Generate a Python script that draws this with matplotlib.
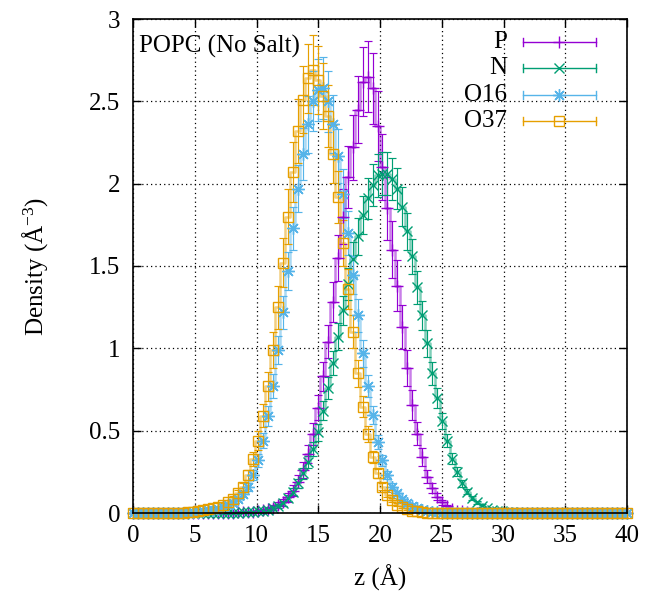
import numpy as np
import matplotlib
matplotlib.use("Agg")
import matplotlib.pyplot as plt
from matplotlib.lines import Line2D

# ---------------- data ----------------
z_min, z_max, n_bins = 0.0, 40.0, 100
z = np.linspace(z_min, z_max, n_bins)

series_names = ["P", "N", "O16", "O37"]

P_density = [
    0, 0, 0, 0, 0, 0, 0, 0, 0, 0,
    0, 0, 0, 0, 0, 0.001, 0.001, 0.001, 0.002, 0.002,
    0.003, 0.004, 0.005, 0.007, 0.009, 0.012, 0.017, 0.024, 0.033, 0.046,
    0.065, 0.095, 0.135, 0.19, 0.26, 0.36, 0.48, 0.64, 0.83, 1.04,
    1.28, 1.55, 1.80, 2.04, 2.22, 2.45, 2.62, 2.65, 2.58, 2.35,
    2.10, 1.85, 1.60, 1.38, 1.13, 0.88, 0.655, 0.48, 0.34, 0.22,
    0.15, 0.10, 0.065, 0.04, 0.025, 0.015, 0.01, 0.006, 0.003, 0.002,
    0.001, 0.001, 0, 0, 0, 0, 0, 0, 0, 0,
    0, 0, 0, 0, 0, 0, 0, 0, 0, 0,
    0, 0, 0, 0, 0, 0, 0, 0, 0, 0,
]
P_err = [
    0, 0, 0, 0, 0, 0, 0, 0, 0, 0,
    0, 0, 0, 0, 0, 0.001, 0.001, 0.001, 0.002, 0.002,
    0.003, 0.003, 0.004, 0.005, 0.006, 0.008, 0.01, 0.012, 0.015, 0.018,
    0.022, 0.027, 0.033, 0.04, 0.047, 0.055, 0.065, 0.076, 0.088, 0.10,
    0.12, 0.14, 0.165, 0.19, 0.20, 0.205, 0.21, 0.215, 0.215, 0.21,
    0.20, 0.19, 0.175, 0.155, 0.135, 0.11, 0.09, 0.07, 0.055, 0.04,
    0.03, 0.022, 0.016, 0.011, 0.008, 0.006, 0.004, 0.003, 0.002, 0.001,
    0.001, 0.001, 0, 0, 0, 0, 0, 0, 0, 0,
    0, 0, 0, 0, 0, 0, 0, 0, 0, 0,
    0, 0, 0, 0, 0, 0, 0, 0, 0, 0,
]

N_density = [
    0, 0, 0, 0, 0, 0, 0, 0, 0, 0,
    0, 0, 0, 0, 0, 0, 0, 0.001, 0.001, 0.001,
    0.002, 0.003, 0.004, 0.005, 0.007, 0.01, 0.015, 0.02, 0.03, 0.04,
    0.06, 0.09, 0.13, 0.18, 0.24, 0.31, 0.39, 0.49, 0.62, 0.76,
    0.91, 1.07, 1.23, 1.39, 1.54, 1.68, 1.81, 1.91, 1.99, 2.05,
    2.06, 2.06, 2.03, 1.97, 1.86, 1.71, 1.56, 1.37, 1.20, 1.03,
    0.85, 0.70, 0.56, 0.44, 0.33, 0.25, 0.18, 0.13, 0.09, 0.065,
    0.045, 0.03, 0.02, 0.015, 0.01, 0.007, 0.005, 0.003, 0.002, 0.001,
    0, 0, 0, 0, 0, 0, 0, 0, 0, 0,
    0, 0, 0, 0, 0, 0, 0, 0, 0, 0,
]
N_err = [
    0, 0, 0, 0, 0, 0, 0, 0, 0, 0,
    0, 0, 0, 0, 0, 0, 0, 0.001, 0.001, 0.001,
    0.002, 0.002, 0.003, 0.003, 0.004, 0.005, 0.006, 0.008, 0.01, 0.012,
    0.015, 0.018, 0.022, 0.027, 0.032, 0.037, 0.043, 0.05, 0.058, 0.066,
    0.074, 0.082, 0.09, 0.098, 0.105, 0.112, 0.118, 0.123, 0.127, 0.13,
    0.13, 0.13, 0.128, 0.125, 0.12, 0.114, 0.107, 0.098, 0.09, 0.08,
    0.07, 0.06, 0.05, 0.042, 0.034, 0.027, 0.021, 0.016, 0.012, 0.009,
    0.007, 0.005, 0.004, 0.003, 0.002, 0.002, 0.001, 0.001, 0.001, 0.001,
    0, 0, 0, 0, 0, 0, 0, 0, 0, 0,
    0, 0, 0, 0, 0, 0, 0, 0, 0, 0,
]

O16_density = [
    0, 0, 0, 0, 0, 0, 0, 0, 0, 0.001,
    0.002, 0.003, 0.005, 0.008, 0.012, 0.016, 0.021, 0.027, 0.035, 0.046,
    0.062, 0.085, 0.115, 0.16, 0.23, 0.32, 0.44, 0.59, 0.77, 0.99,
    1.22, 1.47, 1.73, 1.97, 2.18, 2.36, 2.50, 2.57, 2.58, 2.50,
    2.36, 2.17, 1.94, 1.70, 1.445, 1.20, 0.97, 0.77, 0.595, 0.43,
    0.32, 0.23, 0.16, 0.12, 0.085, 0.06, 0.04, 0.028, 0.018, 0.012,
    0.008, 0.005, 0.003, 0.002, 0.001, 0, 0, 0, 0, 0,
    0, 0, 0, 0, 0, 0, 0, 0, 0, 0,
    0, 0, 0, 0, 0, 0, 0, 0, 0, 0,
    0, 0, 0, 0, 0, 0, 0, 0, 0, 0,
]
O16_err = [
    0, 0, 0, 0, 0, 0, 0, 0, 0, 0.001,
    0.001, 0.002, 0.002, 0.003, 0.004, 0.005, 0.006, 0.007, 0.008, 0.01,
    0.012, 0.015, 0.019, 0.024, 0.03, 0.038, 0.048, 0.06, 0.072, 0.086,
    0.10, 0.115, 0.13, 0.145, 0.16, 0.172, 0.182, 0.188, 0.19, 0.185,
    0.176, 0.163, 0.148, 0.132, 0.115, 0.098, 0.082, 0.067, 0.054, 0.043,
    0.034, 0.026, 0.02, 0.016, 0.012, 0.009, 0.007, 0.005, 0.004, 0.003,
    0.002, 0.001, 0.001, 0.001, 0.001, 0, 0, 0, 0, 0,
    0, 0, 0, 0, 0, 0, 0, 0, 0, 0,
    0, 0, 0, 0, 0, 0, 0, 0, 0, 0,
    0, 0, 0, 0, 0, 0, 0, 0, 0, 0,
]

O37_density = [
    0, 0, 0, 0, 0, 0, 0, 0, 0.001, 0.002,
    0.003, 0.005, 0.008, 0.012, 0.017, 0.022, 0.028, 0.036, 0.048, 0.065,
    0.088, 0.12, 0.16, 0.23, 0.33, 0.44, 0.59, 0.77, 0.99, 1.25,
    1.52, 1.80, 2.07, 2.32, 2.51, 2.64, 2.69, 2.63, 2.53, 2.41,
    2.18, 1.92, 1.64, 1.36, 1.10, 0.85, 0.645, 0.48, 0.34, 0.24,
    0.16, 0.11, 0.08, 0.05, 0.035, 0.025, 0.015, 0.01, 0.006, 0.003,
    0.002, 0.001, 0, 0, 0, 0, 0, 0, 0, 0,
    0, 0, 0, 0, 0, 0, 0, 0, 0, 0,
    0, 0, 0, 0, 0, 0, 0, 0, 0, 0,
    0, 0, 0, 0, 0, 0, 0, 0, 0, 0,
]
O37_err = [
    0, 0, 0, 0, 0, 0, 0, 0, 0.001, 0.001,
    0.002, 0.002, 0.003, 0.004, 0.005, 0.006, 0.007, 0.008, 0.01, 0.012,
    0.015, 0.02, 0.025, 0.032, 0.042, 0.055, 0.07, 0.088, 0.108, 0.13,
    0.15, 0.168, 0.183, 0.195, 0.203, 0.208, 0.21, 0.208, 0.20, 0.19,
    0.175, 0.158, 0.14, 0.12, 0.10, 0.082, 0.065, 0.05, 0.038, 0.028,
    0.02, 0.015, 0.011, 0.008, 0.006, 0.004, 0.003, 0.002, 0.001, 0.001,
    0.001, 0.001, 0, 0, 0, 0, 0, 0, 0, 0,
    0, 0, 0, 0, 0, 0, 0, 0, 0, 0,
    0, 0, 0, 0, 0, 0, 0, 0, 0, 0,
    0, 0, 0, 0, 0, 0, 0, 0, 0, 0,
]

x_ticks = [0, 5, 10, 15, 20, 25, 30, 35, 40]
y_ticks = [0, 0.5, 1, 1.5, 2, 2.5, 3]
y_tick_labels = ["0", "0.5", "1", "1.5", "2", "2.5", "3"]
title_text = "POPC (No Salt)"

# ---------------- style ----------------
plt.rcParams["font.family"] = ["Liberation Serif", "DejaVu Serif"]
plt.rcParams["mathtext.fontset"] = "custom"
plt.rcParams["mathtext.rm"] = "Liberation Serif"
plt.rcParams["mathtext.it"] = "Liberation Serif:italic"
FS = 18

colors = ["#9400D3", "#009E73", "#56B4E9", "#E69F00"]
markers = ["+", "x", (8, 2, 0), "s"]
msizes = [8, 7.5, 9, 6.5]
mfcs = [None, None, None, "none"]

data = [
    (P_density, P_err),
    (N_density, N_err),
    (O16_density, O16_err),
    (O37_density, O37_err),
]

fig = plt.figure(figsize=(6.45, 5.93), dpi=100)
ax = fig.add_axes([133 / 645, 1 - 513 / 593, (627 - 133) / 645, (513 - 19) / 593])

for (y, e), c, m, ms, mfc in zip(data, colors, markers, msizes, mfcs):
    y = np.asarray(y, dtype=float)
    e = np.asarray(e, dtype=float)
    ax.step(z, y, where="mid", color=c, lw=1.8, alpha=0.5, zorder=2, clip_on=False)
    kw = dict(markerfacecolor=mfc) if mfc else {}
    ax.errorbar(z, y, yerr=e, fmt="none", ecolor=c, elinewidth=0.85,
                capsize=2.8, capthick=0.85, zorder=3, clip_on=False)
    ax.plot(z, y, linestyle="none", marker=m, ms=ms, color=c, mew=1.0,
            zorder=4, clip_on=False, **kw)

ax.set_xlim(z_min, z_max)
ax.set_ylim(0, 3)
ax.set_xticks(x_ticks)
ax.set_xticklabels([str(t) for t in x_ticks])
ax.set_yticks(y_ticks)
ax.set_yticklabels(y_tick_labels)
ax.tick_params(direction="in", length=6, width=1.0, top=True, right=True,
               labelsize=FS)
ax.tick_params(axis="x", pad=9)
ax.tick_params(axis="y", pad=9)
ax.grid(True, color="black", linestyle=(0, (1, 2.5)), lw=0.9)
ax.set_axisbelow(True)
for s in ax.spines.values():
    s.set_linewidth(1.2)
    s.set_zorder(5)

ax.set_xlabel("z (Å)", fontsize=FS, labelpad=12)
ax.set_ylabel("Density (Å$^{-3}$)", fontsize=FS, labelpad=28)

ax.text(0.012, 0.968, title_text, transform=ax.transAxes, fontsize=FS,
        ha="left", va="top", zorder=6)

# legend drawn gnuplot-style (label right-aligned, sample with end caps)
row_y = [0.953, 0.901, 0.846, 0.793]
for name, c, m, ms, mfc, ry in zip(series_names, colors, markers, msizes, mfcs, row_y):
    ax.text(0.757, ry, name, transform=ax.transAxes, fontsize=FS,
            ha="right", va="center", zorder=6)
    ax.add_line(Line2D([0.79, 0.937], [ry, ry], transform=ax.transAxes,
                       color=c, lw=1.0, zorder=6))
    for xx in (0.79, 0.937):
        ax.add_line(Line2D([xx, xx], [ry - 0.008, ry + 0.008],
                           transform=ax.transAxes, color=c, lw=1.0, zorder=6))
    kw = dict(markerfacecolor=mfc) if mfc else {}
    ax.add_line(Line2D([0.863], [ry], transform=ax.transAxes, color=c,
                       marker=m, ms=ms, mew=1.0, linestyle="none", zorder=6, **kw))

fig.savefig("out.png", dpi=100)
